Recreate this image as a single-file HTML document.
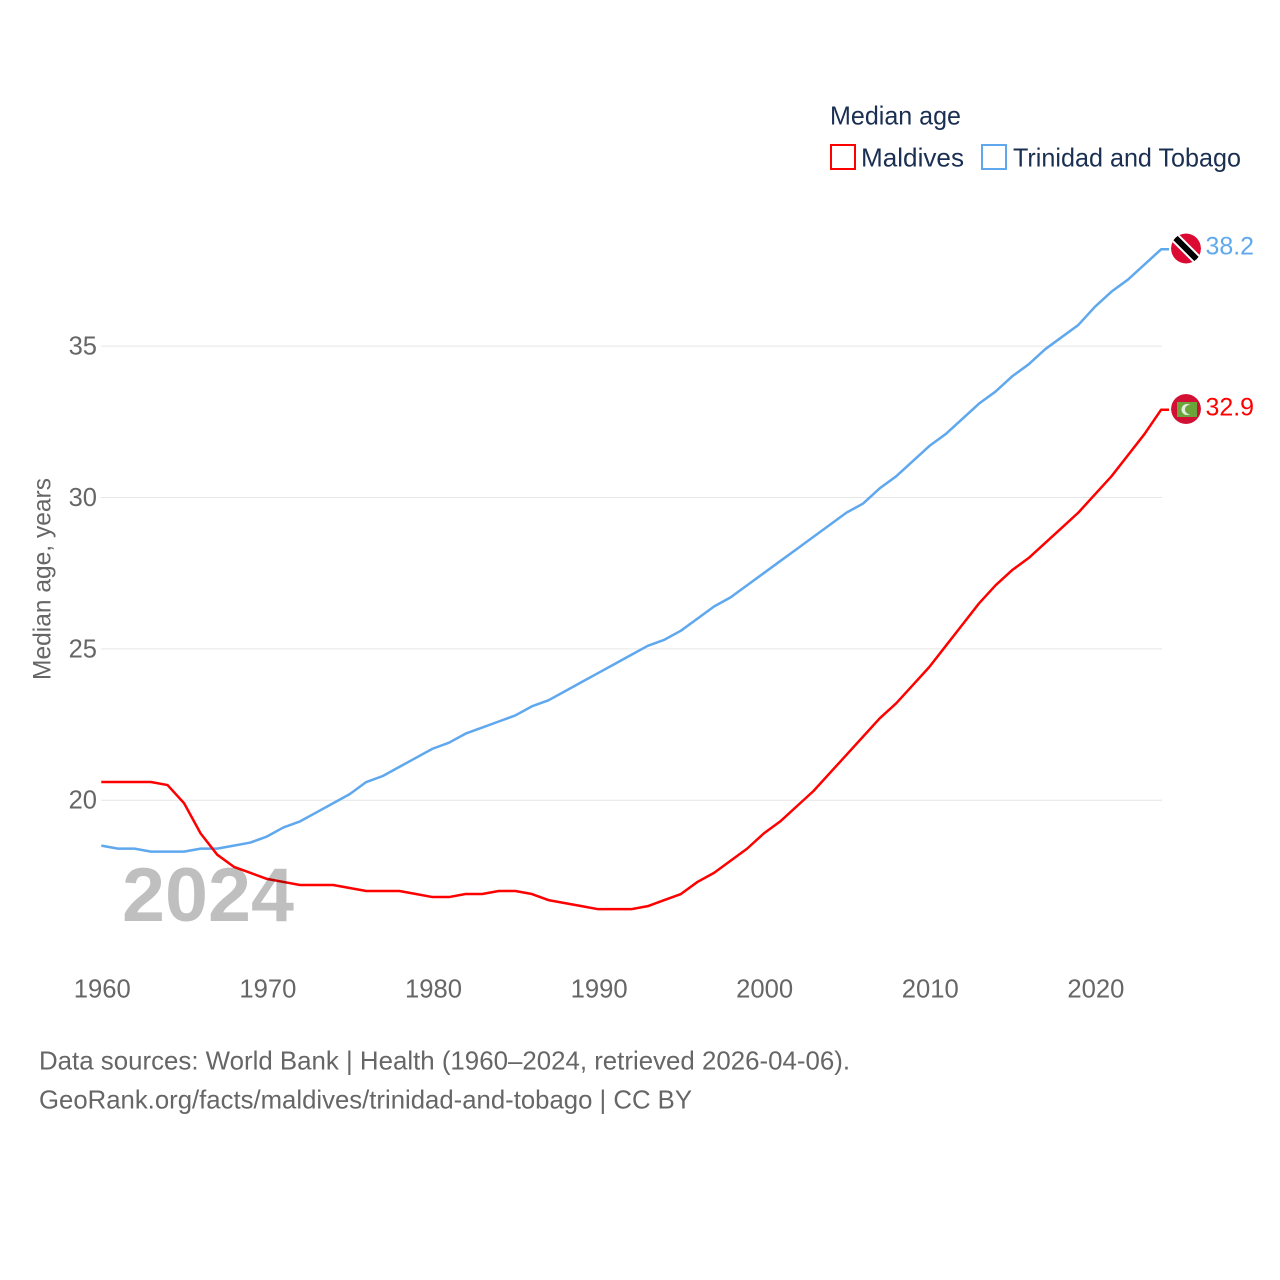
<!DOCTYPE html>
<html lang="en">
<head>
<meta charset="utf-8">
<title>Median age: Maldives and Trinidad and Tobago</title>
<style>
html,body{margin:0;padding:0;background:#fff}
svg{display:block}
text{font-family:"Liberation Sans",sans-serif}
</style>
</head>
<body>
<svg id="chart" width="1280" height="1280" viewBox="0 0 1280 1280" xmlns="http://www.w3.org/2000/svg">
  <defs>
    <clipPath id="tt-clip"><circle cx="1186" cy="248.5" r="15"/></clipPath>
    <clipPath id="mv-clip"><circle cx="1186" cy="409" r="15"/></clipPath>
  </defs>
  <rect x="0" y="0" width="1280" height="1280" fill="#fff"/>
  <g id="grid"></g>
  <g id="yticks"></g>
  <g id="xticks"></g>
  <g id="series"></g>

  <text transform="translate(50.5,680) rotate(-90)" font-size="25" fill="#666" textLength="202" lengthAdjust="spacingAndGlyphs">Median age, years</text>

  <text x="122" y="921" font-size="76" font-weight="700" fill="#000" fill-opacity="0.25" textLength="172" lengthAdjust="spacingAndGlyphs">2024</text>

  <text x="830" y="124.5" font-size="26" fill="#1a2f52" textLength="131" lengthAdjust="spacingAndGlyphs">Median age</text>
  <rect x="831" y="145" width="24" height="24" fill="#fff" stroke="#f00" stroke-width="2"/>
  <text x="861" y="166.5" font-size="26" fill="#1a2f52" textLength="103" lengthAdjust="spacingAndGlyphs">Maldives</text>
  <rect x="982" y="145" width="24" height="24" fill="#fff" stroke="#5fa8ee" stroke-width="2"/>
  <text x="1013" y="166.5" font-size="26" fill="#1a2f52" textLength="228" lengthAdjust="spacingAndGlyphs">Trinidad and Tobago</text>

  <g clip-path="url(#tt-clip)">
    <circle cx="1186" cy="248.5" r="15" fill="#dc0a32"/>
    <line x1="1170" y1="232.5" x2="1202" y2="264.5" stroke="#fff" stroke-width="10"/>
    <line x1="1170" y1="232.5" x2="1202" y2="264.5" stroke="#000" stroke-width="6"/>
  </g>
  <g clip-path="url(#mv-clip)">
    <circle cx="1186" cy="409" r="15" fill="#d21034"/>
    <rect x="1177" y="402" width="20" height="15" fill="#6aa53c"/>
    <circle cx="1187" cy="409.5" r="5.5" fill="#e6ecdc"/>
    <circle cx="1189.5" cy="409.5" r="4.6" fill="#6aa53c"/>
  </g>
  <text id="label-trinidad" x="1205.5" y="254.5" font-size="25" fill="#5fa8ee" textLength="48.5" lengthAdjust="spacingAndGlyphs"></text>
  <text id="label-maldives" x="1205.5" y="415.5" font-size="25" fill="#f00" textLength="48.5" lengthAdjust="spacingAndGlyphs"></text>

  <text x="39" y="1069.5" font-size="26" fill="#666" textLength="811" lengthAdjust="spacingAndGlyphs">Data sources: World Bank | Health (1960–2024, retrieved 2026-04-06).</text>
  <text x="39" y="1108.5" font-size="26" fill="#666" textLength="653" lengthAdjust="spacingAndGlyphs">GeoRank.org/facts/maldives/trinidad-and-tobago | CC BY</text>
</svg>
<script>
const startYear = 1960;
const xTickLabels = [1960, 1970, 1980, 1990, 2000, 2010, 2020];
const yTickLabels = [20, 25, 30, 35];
const maldivesValues = [
  20.6, 20.6, 20.6, 20.6, 20.5, 19.9, 18.9, 18.2, 17.8, 17.6,
  17.4, 17.3, 17.2, 17.2, 17.2, 17.1, 17.0, 17.0, 17.0, 16.9,
  16.8, 16.8, 16.9, 16.9, 17.0, 17.0, 16.9, 16.7, 16.6, 16.5,
  16.4, 16.4, 16.4, 16.5, 16.7, 16.9, 17.3, 17.6, 18.0, 18.4,
  18.9, 19.3, 19.8, 20.3, 20.9, 21.5, 22.1, 22.7, 23.2, 23.8,
  24.4, 25.1, 25.8, 26.5, 27.1, 27.6, 28.0, 28.5, 29.0, 29.5,
  30.1, 30.7, 31.4, 32.1, 32.9
];
const trinidadValues = [
  18.5, 18.4, 18.4, 18.3, 18.3, 18.3, 18.4, 18.4, 18.5, 18.6,
  18.8, 19.1, 19.3, 19.6, 19.9, 20.2, 20.6, 20.8, 21.1, 21.4,
  21.7, 21.9, 22.2, 22.4, 22.6, 22.8, 23.1, 23.3, 23.6, 23.9,
  24.2, 24.5, 24.8, 25.1, 25.3, 25.6, 26.0, 26.4, 26.7, 27.1,
  27.5, 27.9, 28.3, 28.7, 29.1, 29.5, 29.8, 30.3, 30.7, 31.2,
  31.7, 32.1, 32.6, 33.1, 33.5, 34.0, 34.4, 34.9, 35.3, 35.7,
  36.3, 36.8, 37.2, 37.7, 38.2
];

const NS = 'http://www.w3.org/2000/svg';
function xScale(year) { return 101.3 + (year - 1960) * 16.56; }
function yScale(value) { return 800.2 - (value - 20) * 30.27; }
function make(tag, attrs, parent, txt) {
  const el = document.createElementNS(NS, tag);
  for (const k in attrs) el.setAttribute(k, attrs[k]);
  if (txt !== undefined) el.textContent = txt;
  parent.appendChild(el);
  return el;
}
const gridG = document.getElementById('grid');
const yG = document.getElementById('yticks');
const xG = document.getElementById('xticks');
const seriesG = document.getElementById('series');

yTickLabels.forEach(function (v) {
  const line = make('line', {x1: 101, x2: 1162, y1: yScale(v), y2: yScale(v), stroke: '#e6e6e6', 'stroke-width': 1}, gridG);
  
  
  const t = make('text', {x: 97, y: yScale(v) + 8.5, 'font-size': 25.5, fill: '#666', 'text-anchor': 'end'}, yG, String(v));
  
  
});
xTickLabels.forEach(function (y) {
  const t = make('text', {x: xScale(y) + 1, y: 997.5, 'font-size': 25.5, fill: '#666', 'text-anchor': 'middle', textLength: 57, lengthAdjust: 'spacingAndGlyphs'}, xG, String(y));
  
  
});
function drawSeries(values, color, name) {
  const pts = values.map(function (v, i) { return xScale(startYear + i).toFixed(2) + ',' + yScale(v).toFixed(2); });
  const lastY = yScale(values[values.length - 1]);
  pts.push('1169,' + lastY.toFixed(2));
  const line = make('polyline', {points: pts.join(' '), fill: 'none', stroke: color, 'stroke-width': 2.5, 'stroke-linejoin': 'round'}, seriesG);
  
  
}
drawSeries(trinidadValues, '#5fa8ee', 'line-trinidad');
drawSeries(maldivesValues, '#f00', 'line-maldives');
document.getElementById('label-trinidad').textContent = trinidadValues[trinidadValues.length - 1].toFixed(1);
document.getElementById('label-maldives').textContent = maldivesValues[maldivesValues.length - 1].toFixed(1);
</script>
</body>
</html>
